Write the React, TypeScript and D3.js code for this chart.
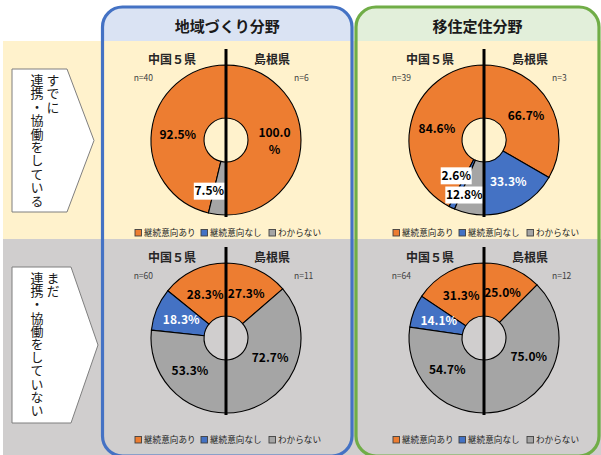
import React from 'react';
import * as d3 from 'd3';

// ---------- data ----------
const panels = ['地域づくり分野', '移住定住分野'];
const rowLead = ['すでに', 'まだ'];
const rowMain = ['連携・協働をしている', '連携・協働をしていない'];
const groups = ['中国５県', '島根県'];
const categories = ['継続意向あり', '継続意向なし', 'わからない'];
// [row][panel][category]
const chugokuValues = [
  [[92.5, 0, 7.5], [84.6, 2.6, 12.8]],
  [[28.3, 18.3, 53.3], [31.3, 14.1, 54.7]],
];
const shimaneValues = [
  [[100.0, 0, 0], [66.7, 33.3, 0]],
  [[27.3, 0, 72.7], [25.0, 0, 75.0]],
];
const chugokuN = [[40, 39], [60, 64]];
const shimaneN = [[6, 3], [11, 12]];

// ---------- styling / layout ----------
const W = 601, H = 455;
const colors = ['#ED7D31', '#4472C4', '#A5A5A5'];
const labelColors = ['#000', '#fff', '#000'];
const bandColors = ['#FFF2CC', '#D0CECE'];
const rowTop = [41, 239];
const rowBottom = [239, 456];
const legendY = [233, 440];
const pentTop = [69, 267];
const pentBot = [212, 423];
const pentShoulder = [67, 71];
const leadStart = [73.5, 271.5];
const letterSp = [0.4, 0.2];
const panelX0 = [102.5, 356];
const panelX1 = [352, 599];
const panelStroke = ['#4472C4', '#70AD47'];
const headerFill = ['#DAE3F3', '#E2EFDA'];
const panelY0 = 7, headerBottom = 41, panelR = 20;
const cxScale = d3.scaleOrdinal<string, number>().domain(panels).range([226, 484]);
const innerR = 22, outerR = 75;
// callout offsets from centroid: key row-panel-side-cat
const callouts: Record<string, [number, number]> = {
  '0-0-L-2': [-11, 3],
  '0-1-L-1': [-7, -8],
  '0-1-L-2': [-10, 7.5],
};
const FONT = '"Noto Sans CJK JP", "Noto Sans", sans-serif';

const arcGen = d3.arc<d3.PieArcDatum<number>>().innerRadius(innerR).outerRadius(outerR);
const leftPie = d3.pie<number>().sort(null).startAngle(0).endAngle(-Math.PI);
const rightPie = d3.pie<number>().sort(null).startAngle(0).endAngle(Math.PI);

function headerPath(x0: number, x1: number) {
  const r = panelR;
  return `M${x0},${headerBottom} V${panelY0 + r} A${r},${r} 0 0 1 ${x0 + r},${panelY0} H${x1 - r} A${r},${r} 0 0 1 ${x1},${panelY0 + r} V${headerBottom} Z`;
}

function Donut({ row, p }: { row: number; p: number }) {
  const cx = cxScale(panels[p]);
  const cy = rowTop[row] + 99;
  const halves: { side: string; arcs: d3.PieArcDatum<number>[] }[] = [
    { side: 'L', arcs: leftPie(chugokuValues[row][p]) },
    { side: 'R', arcs: rightPie(shimaneValues[row][p]) },
  ];
  const labels: React.ReactNode[] = [];
  halves.forEach(({ side, arcs }) => {
    arcs.forEach((a, i) => {
      if (a.data <= 0) return;
      const [x0, y0] = arcGen.centroid(a);
      const key = `${row}-${p}-${side}-${i}`;
      const off = callouts[key];
      const x = cx + x0 + (off ? off[0] : 0);
      const y = cy + y0 + (off ? off[1] : 0);
      const txt = a.data.toFixed(1) + '%';
      if (off) {
        const w = txt.length * 7 + 3;
        labels.push(
          <g key={key}>
            <rect x={x - w / 2} y={y - 8.5} width={w} height={17} fill="#fff" />
            <text x={x} y={y + 4.3} textAnchor="middle" fontSize={12} fontWeight="bold" fill="#000">{txt}</text>
          </g>
        );
      } else if (a.data >= 100) {
        labels.push(
          <text key={key} x={x} y={y - 3} textAnchor="middle" fontSize={12} fontWeight="bold" fill={labelColors[i]}>
            <tspan x={x}>{a.data.toFixed(1)}</tspan>
            <tspan x={x} dy={17}>%</tspan>
          </text>
        );
      } else {
        labels.push(
          <text key={key} x={x} y={y + 4.3} textAnchor="middle" fontSize={12} fontWeight="bold" fill={labelColors[i]}>{txt}</text>
        );
      }
    });
  });
  return (
    <g>
      <text x={cx - 54} y={cy - 76} textAnchor="middle" fontSize={12} fontWeight="bold" fill="#262626">{groups[0]}</text>
      <text x={cx + 46} y={cy - 76} textAnchor="middle" fontSize={12} fontWeight="bold" fill="#262626">{groups[1]}</text>
      <text x={cx - 73} y={cy - 59} textAnchor="end" fontSize={8.5} fill="#404040">{`n=${chugokuN[row][p]}`}</text>
      <text x={cx + 68} y={cy - 59} textAnchor="start" fontSize={8.5} fill="#404040">{`n=${shimaneN[row][p]}`}</text>
      <g transform={`translate(${cx},${cy})`}>
        {halves.map(({ side, arcs }) =>
          arcs.filter(a => a.data > 0).map((a) => (
            <path key={side + a.index} d={arcGen(a) || ''} fill={colors[a.index]} stroke="#000" strokeWidth={1.1} />
          ))
        )}
      </g>
      {labels}
      <line x1={cx} x2={cx} y1={cy - 91} y2={cy + 77} stroke="#000" strokeWidth={3} />
    </g>
  );
}

function Legend({ row, p }: { row: number; p: number }) {
  const cx = cxScale(panels[p]);
  const x0 = cx - 91;
  const y = legendY[row];
  const offsets = [0, 66, 134];
  return (
    <g>
      {categories.map((c, i) => (
        <g key={c}>
          <rect x={x0 + offsets[i]} y={y - 3.5} width={6.5} height={6.5} fill={colors[i]} stroke="#404040" strokeWidth={0.9} />
          <text x={x0 + offsets[i] + 9} y={y + 3.2} fontSize={8.6} fill="#262626">{c}</text>
        </g>
      ))}
    </g>
  );
}

export default function App() {
  return (
    <svg width={W} height={H} viewBox={`0 0 ${W} ${H}`} style={{ position: 'fixed', left: 0, top: 0, fontFamily: FONT }}>
      <rect x={0} y={0} width={W} height={H} fill="#fff" />
      {rowTop.map((t, r) => (
        <rect key={'band' + r} x={3} y={t} width={W - 3} height={rowBottom[r] - t} fill={bandColors[r]} />
      ))}
      {rowTop.map((_, r) => (
        <g key={'lab' + r}>
          <polygon
            points={`12,${pentTop[r]} ${pentShoulder[r]},${pentTop[r]} ${pentShoulder[r] + 27},${(pentTop[r] + pentBot[r]) / 2} ${pentShoulder[r]},${pentBot[r]} 12,${pentBot[r]}`}
            fill="#fff" stroke="#7F7F7F" strokeWidth={1}
          />
          <text x={53} y={leadStart[r]} fontSize={13} fill="#1a1a1a"
            style={{ writingMode: 'vertical-rl', letterSpacing: `${letterSp[r]}px` }}>{rowLead[r]}</text>
          <text x={37} y={leadStart[r]} fontSize={13} fill="#1a1a1a"
            style={{ writingMode: 'vertical-rl', letterSpacing: `${letterSp[r]}px` }}>{rowMain[r]}</text>
        </g>
      ))}
      {panels.map((name, p) => (
        <g key={name}>
          <path d={headerPath(panelX0[p], panelX1[p])} fill={headerFill[p]} />
          <text x={(panelX0[p] + panelX1[p]) / 2} y={32} textAnchor="middle" fontSize={15} fontWeight="bold" fill="#1a1a1a">{name}</text>
        </g>
      ))}
      {panels.map((name, p) =>
        rowTop.map((_, r) => (
          <g key={name + r}>
            <Donut row={r} p={p} />
            <Legend row={r} p={p} />
          </g>
        ))
      )}
      {panels.map((name, p) => (
        <rect key={'border' + name} x={panelX0[p]} y={panelY0} width={panelX1[p] - panelX0[p]} height={rowBottom[1] - panelY0}
          rx={panelR} ry={panelR} fill="none" stroke={panelStroke[p]} strokeWidth={3.2} />
      ))}
    </svg>
  );
}
